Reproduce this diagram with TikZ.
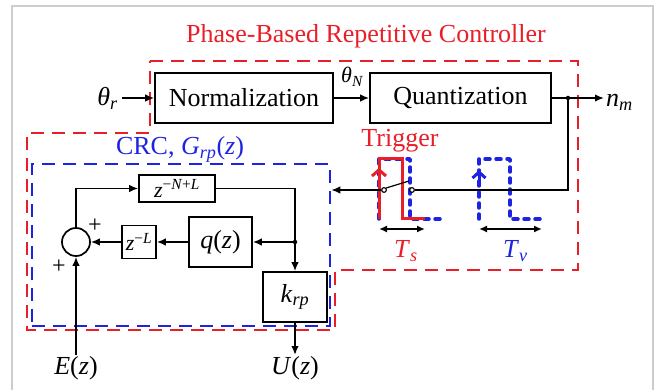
\documentclass[tikz,border=0pt]{standalone}
\usepackage{fontspec}
\setmainfont{Liberation Serif}
\usetikzlibrary{arrows.meta}
\definecolor{cred}{RGB}{232,30,40}
\definecolor{cblue}{RGB}{30,35,225}
\definecolor{cframe}{RGB}{205,205,205}
\begin{document}
\begin{tikzpicture}[x=1pt,y=-1pt,
  every node/.style={font=\fontsize{26}{28}\selectfont},
  small/.style={font=\fontsize{22}{24}\selectfont},
  blk/.style={draw, line width=1.7pt, inner sep=0pt},
  wire/.style={line width=1.6pt},
  arr/.style={wire, -{Latex[length=9pt,width=7.5pt]}},
  darr/.style={line width=1.6pt, {Latex[length=8pt,width=7pt]}-{Latex[length=8pt,width=7pt]}},
  reddash/.style={draw=cred, line width=2.5pt, dash pattern=on 13pt off 8pt},
  bluedash/.style={draw=cblue, line width=2.5pt, dash pattern=on 13pt off 8pt},
  bluedot/.style={draw=cblue, line width=3.5pt, dash pattern=on 5pt off 6pt, line cap=round, line join=round},
  contact/.style={draw, circle, line width=1pt, inner sep=0pt, minimum size=4.5pt, fill=white},
  dot/.style={fill, circle, inner sep=0pt, minimum size=4.5pt}
]
\useasboundingbox (0,0) rectangle (662,390);
% frame
\draw[cframe, line width=2pt] (12,392) -- (12,6) -- (653,6) -- (653,392);

% red dashed region
\draw[reddash] (150,61) -- (578,61) -- (578,270) -- (335,270) -- (335,330) -- (27,330) -- (27,133) -- (150,133) -- cycle;
\node[text=cred, anchor=base] (title) at (366,43) {Phase-Based Repetitive Controller};

% blue CRC box
\node[bluedash, inner sep=0pt, minimum width=298pt, minimum height=162pt] (crc) at (181,245) {};
\node[text=cblue, anchor=base] (crclab) at (180,155) {CRC, \textit{G}\textsubscript{\textit{rp}}(\textit{z})};

% top chain
\node[blk, minimum width=178pt, minimum height=50pt] (norm) at (244,98) {Normalization};
\node[blk, minimum width=181pt, minimum height=50pt] (quant) at (460.5,98) {Quantization};
\node[anchor=base east, inner sep=1pt] (thr) at (119,106) {\textit{θ}\textsubscript{\textit{r}}};
\node[small, anchor=base west, inner sep=0pt] (thN) at (341,83) {\textit{θ}\textsubscript{\textit{N}}};
\node[anchor=base west, inner sep=1pt] (nm) at (605,107) {\textit{n}\textsubscript{\textit{m}}};
\coordinate (j1) at (568,98);

\draw[arr] ([xshift=3pt]thr.east |- norm.west) -- (norm.west);
\draw[arr] (norm.east) -- (quant.west);
\draw[wire] (quant.east) -- (j1);
\draw[arr] (j1) -- ([xshift=-1pt]nm.west |- j1);
\node[dot] at (j1) {};

% pulses
\draw[bluedot] (379,219) -- (379,159) -- (410,159) -- (410,219) -- (443,219);
\draw[bluedot] (479,219) -- (479,159) -- (510,159) -- (510,219) -- (542,219);
\draw[cred, line width=3pt] (379,219) -- (379,159) -- (402,159) -- (402,219) -- (425,219);
\draw[cred, line width=3pt, -{Straight Barb[length=6pt,width=14pt]}] (379,200) -- (379,168);
\draw[cblue, line width=3pt, -{Straight Barb[length=6pt,width=13pt]}] (479,182) -- (479,170);
\node[text=cred, anchor=base] (trig) at (400,147) {Trigger};
\coordinate (ts1) at (379,229);
\coordinate (ts2) at (425,229);
\coordinate (tv1) at (479,229);
\coordinate (tv2) at (542,229);
\draw[darr] (ts1) -- (ts2);
\draw[darr] (tv1) -- (tv2);
\node[text=cred, anchor=base west, inner sep=0pt] (Ts) at (394,258) {\textit{T}\textsubscript{\textit{s}}};
\node[text=cblue, anchor=base west, inner sep=0pt] (Tv) at (503,258) {\textit{T}\textsubscript{\textit{v}}};

% switch
\node[contact] (sw1) at (384,190) {};
\node[contact] (sw2) at (412,190) {};
\coordinate (blade) at (409,181);
\draw[wire] (j1) |- (sw2.east);
\draw[line width=1.2pt] (sw1.north east) -- (blade);
\draw[arr] (sw1.west) -- (crc.east |- sw1);
\node[contact] at (sw1) {};
\node[contact] at (sw2) {};

% CRC internals
\node[blk, small, minimum width=76pt, minimum height=27pt] (znl) at (177,188.5) {\textit{z}\textsuperscript{−\textit{N}+\textit{L}}};
\node[blk, minimum width=63pt, minimum height=50pt] (qz) at (220.5,242) {\textit{q}(\textit{z})};
\node[blk, small, minimum width=34pt, minimum height=33pt] (zl) at (139,242) {\textit{z}\textsuperscript{−\textit{L}}};
\node[draw, circle, line width=1.7pt, minimum size=28pt, inner sep=0pt] (sum) at (76,242) {};
\node[blk, minimum width=64pt, minimum height=50pt] (krp) at (295,297) {\textit{k}\textsubscript{\textit{rp}}};
\coordinate (j2) at (295,242);
\node[font=\fontsize{24}{26}\selectfont] (p1) at (95,226) {+};
\node[font=\fontsize{24}{26}\selectfont] (p2) at (59,267) {+};
\node[inner sep=1pt] (E) at (76,368) {\textit{E}(\textit{z})};
\node[inner sep=1pt] (U) at (295,368) {\textit{U}(\textit{z})};

\draw[arr] (sum.north) |- (znl.west);
\draw[wire] (znl.east) -| (j2);
\draw[arr] (j2) -- (krp.north);
\draw[arr] (j2) -- (qz.east);
\draw[arr] (qz.west) -- (zl.east);
\draw[arr] (zl.west) -- (sum.east);
\draw[arr] (E.north) -- (sum.south);
\draw[arr] (krp.south) -- (U.north);
\node[dot] at (j2) {};
\end{tikzpicture}
\end{document}
